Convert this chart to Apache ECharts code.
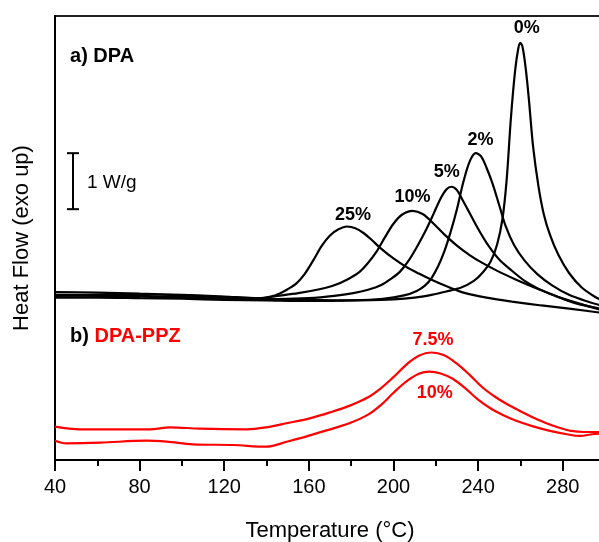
<!DOCTYPE html>
<html>
<head>
<meta charset="utf-8">
<script src="https://cdn.jsdelivr.net/npm/echarts@6/dist/echarts.min.js"></script>
<style>html,body{margin:0;padding:0;background:#fff}#c{width:599px;height:542px}</style>
</head>
<body>
<div id="c"></div>
<script>
// Temperature (°C), Heat flow (W/g, arbitrary offset)
const dpa0 = [[40,2.93],[60,2.95],[80,2.96],[100,2.94],[120,2.91],[140,2.88],[160,2.86],[180,2.85],[200,2.87],[210,2.9],[218,2.95],[225,3.01],[232,3.08],[238,3.2],[242,3.34],[246,3.55],[249,3.85],[251.5,4.3],[253.5,5.0],[255.5,6.1],[257.5,6.95],[259,7.35],[260,7.45],[261,7.38],[262.5,7.0],[264,6.45],[266,5.6],[268.5,4.9],[271,4.4],[274,4.02],[278,3.66],[283,3.34],[289,3.08],[295,2.92],[300,2.82]];
const dpa2 = [[40,2.90],[60,2.90],[80,2.89],[100,2.88],[120,2.86],[140,2.85],[160,2.84],[180,2.85],[195,2.88],[205,2.94],[211,3.02],[215,3.12],[218,3.25],[221,3.45],[224,3.72],[227,4.07],[230,4.48],[233,4.96],[236,5.33],[238.9,5.48],[241.5,5.42],[244,5.22],[247,4.92],[250,4.55],[253,4.18],[257,3.84],[262,3.56],[268,3.32],[275,3.12],[283,2.95],[291,2.84],[300,2.74]];
const dpa5 = [[40,2.94],[60,2.93],[80,2.92],[100,2.90],[120,2.88],[140,2.87],[160,2.89],[172,2.93],[181,2.98],[188,3.04],[194,3.12],[199,3.24],[203,3.36],[207,3.55],[211,3.80],[215,4.08],[219,4.40],[222,4.65],[225,4.83],[227.4,4.88],[230,4.82],[233,4.62],[236,4.41],[240,4.13],[244,3.88],[250,3.58],[256,3.38],[262,3.20],[268,3.07],[274,2.97],[280,2.88],[288,2.78],[300,2.69]];
const dpa10 = [[40,2.95],[60,2.94],[80,2.93],[100,2.91],[120,2.89],[135,2.88],[145,2.93],[155,2.98],[165,3.05],[172,3.12],[178,3.22],[184,3.36],[188,3.52],[192,3.72],[196,3.98],[200,4.22],[204,4.38],[209,4.45],[214,4.39],[219,4.22],[224,4.03],[230,3.83],[236,3.66],[242,3.52],[250,3.36],[258,3.22],[266,3.09],[274,2.97],[282,2.86],[290,2.77],[300,2.66]];
const dpa25 = [[40,3.0],[60,2.99],[80,2.97],[100,2.95],[120,2.92],[136,2.89],[142,2.92],[146,2.97],[150,3.05],[154,3.15],[158,3.32],[162,3.56],[166,3.82],[170,4.01],[174,4.12],[178,4.17],[182,4.14],[186,4.05],[190,3.92],[194,3.78],[200,3.6],[206,3.45],[212,3.33],[218,3.22],[226,3.09],[234,2.98],[244,2.9],[256,2.83],[270,2.76],[284,2.7],[300,2.62]];
const ppz75 = [[40,0.595],[51.8,0.548],[69.1,0.548],[84.9,0.548],[94.3,0.584],[108.5,0.559],[130.6,0.548],[140,0.584],[150,0.66],[160,0.74],[170,0.85],[180,0.98],[188,1.12],[194,1.28],[200,1.48],[206,1.70],[212,1.86],[218,1.92],[224,1.87],[230,1.72],[236,1.52],[242,1.30],[248,1.13],[254,0.99],[260,0.87],[266,0.76],[272,0.66],[278,0.58],[284,0.52],[290,0.50],[300,0.50]];
const ppz10 = [[40,0.345],[45.5,0.298],[61.3,0.309],[83.3,0.345],[92.8,0.327],[105.3,0.280],[124.2,0.268],[140,0.238],[150,0.33],[156,0.39],[164,0.48],[172,0.57],[180,0.67],[188,0.81],[194,0.98],[200,1.20],[206,1.40],[212,1.54],[217,1.58],[222,1.55],[228,1.45],[234,1.28],[240,1.08],[246,0.92],[252,0.80],[258,0.70],[266,0.60],[274,0.52],[282,0.46],[288,0.43],[294,0.46],[300,0.48]];
const blackLabels = [{name:'0%',value:[263,7.71]},{name:'2%',value:[241.2,5.71]},{name:'5%',value:[225.2,5.14]},{name:'10%',value:[209,4.69]},{name:'25%',value:[180.9,4.375]}];
const redLabels = [{name:'7.5%',value:[218.7,2.14]},{name:'10%',value:[219.5,1.19]}];
const scaleBar = [[48.5,4.48,5.48]];
const xTicks = {min:40,max:300,interval:40};

const chart = echarts.init(document.getElementById('c'));
const F = 'Arial, "Liberation Sans", Helvetica, sans-serif';
const black = {type:'line',showSymbol:false,symbol:'none',smooth:0.3,lineStyle:{color:'#000',width:2.2},z:3};
const red = {type:'line',showSymbol:false,symbol:'none',smooth:0.35,lineStyle:{color:'#ff0000',width:2.2},z:3};
chart.setOption({
  animation:false,
  grid:{left:55,top:16,bottom:82,right:-6,outerBoundsMode:'none',containLabel:false,show:true,borderColor:'#222',borderWidth:2,backgroundColor:'transparent'},
  xAxis:{type:'value',min:xTicks.min,max:xTicks.max,interval:xTicks.interval,
    name:'Temperature (°C)',nameLocation:'middle',nameGap:60,
    nameTextStyle:{fontFamily:F,fontSize:22,color:'#000'},
    axisLine:{show:true,onZero:false,lineStyle:{color:'#000',width:2}},
    axisTick:{show:true,inside:false,length:11,lineStyle:{color:'#000',width:2}},
    minorTick:{show:true,splitNumber:2,length:6,lineStyle:{color:'#000',width:2}},
    axisLabel:{fontFamily:F,fontSize:20,color:'#000',margin:17,showMaxLabel:false},
    splitLine:{show:false}},
  yAxis:{type:'value',min:0,max:7.93,
    name:'Heat Flow (exo up)',nameLocation:'middle',nameGap:22,nameRotate:90,
    nameTextStyle:{fontFamily:F,fontSize:22,color:'#000'},
    axisLine:{show:true,lineStyle:{color:'#000',width:2}},
    axisTick:{show:false},axisLabel:{show:false},splitLine:{show:false}},
  series:[
    Object.assign({},black,{name:'0%',data:dpa0}),
    Object.assign({},black,{name:'2%',data:dpa2}),
    Object.assign({},black,{name:'5%',data:dpa5}),
    Object.assign({},black,{name:'10%',data:dpa10}),
    Object.assign({},black,{name:'25%',data:dpa25}),
    Object.assign({},red,{name:'7.5% PPZ',data:ppz75}),
    Object.assign({},red,{name:'10% PPZ',data:ppz10}),
    {type:'scatter',symbolSize:0,data:blackLabels,z:5,itemStyle:{opacity:1},
      label:{show:true,position:'inside',opacity:1,formatter:p=>p.name,fontFamily:F,fontWeight:'bold',fontSize:18,color:'#000'}},
    {type:'scatter',symbolSize:0,data:redLabels,z:5,itemStyle:{opacity:1},
      label:{show:true,position:'inside',opacity:1,formatter:p=>p.name,fontFamily:F,fontWeight:'bold',fontSize:18,color:'#ff0000'}},
    {type:'scatter',symbolSize:0,z:5,itemStyle:{opacity:1},
      data:[{name:'a',value:[47.1,7.21]},{name:'b',value:[47.1,2.2]},{name:'w',value:[55.1,4.95]}],
      label:{show:true,position:'right',distance:0,opacity:1,fontFamily:F,color:'#000',
        formatter:p=>p.name==='a'?'{b|a) DPA}':(p.name==='b'?'{b|b) }{r|DPA-PPZ}':'{n|1 W/g}'),
        rich:{b:{fontFamily:F,fontWeight:'bold',fontSize:20,color:'#000'},
              r:{fontFamily:F,fontWeight:'bold',fontSize:20,color:'#ff0000'},
              n:{fontFamily:F,fontSize:19,color:'#000'}}}},
    {type:'custom',data:scaleBar,z:5,
      renderItem:(params,api)=>{
        const a=api.coord([api.value(0),api.value(1)]);
        const b=api.coord([api.value(0),api.value(2)]);
        const st={stroke:'#000',lineWidth:2};
        return {type:'group',children:[
          {type:'line',shape:{x1:a[0],y1:a[1],x2:b[0],y2:b[1]},style:st},
          {type:'line',shape:{x1:a[0]-6,y1:a[1],x2:a[0]+6,y2:a[1]},style:st},
          {type:'line',shape:{x1:b[0]-6,y1:b[1],x2:b[0]+6,y2:b[1]},style:st}
        ]};
      }}
  ]
});
</script>
</body>
</html>
